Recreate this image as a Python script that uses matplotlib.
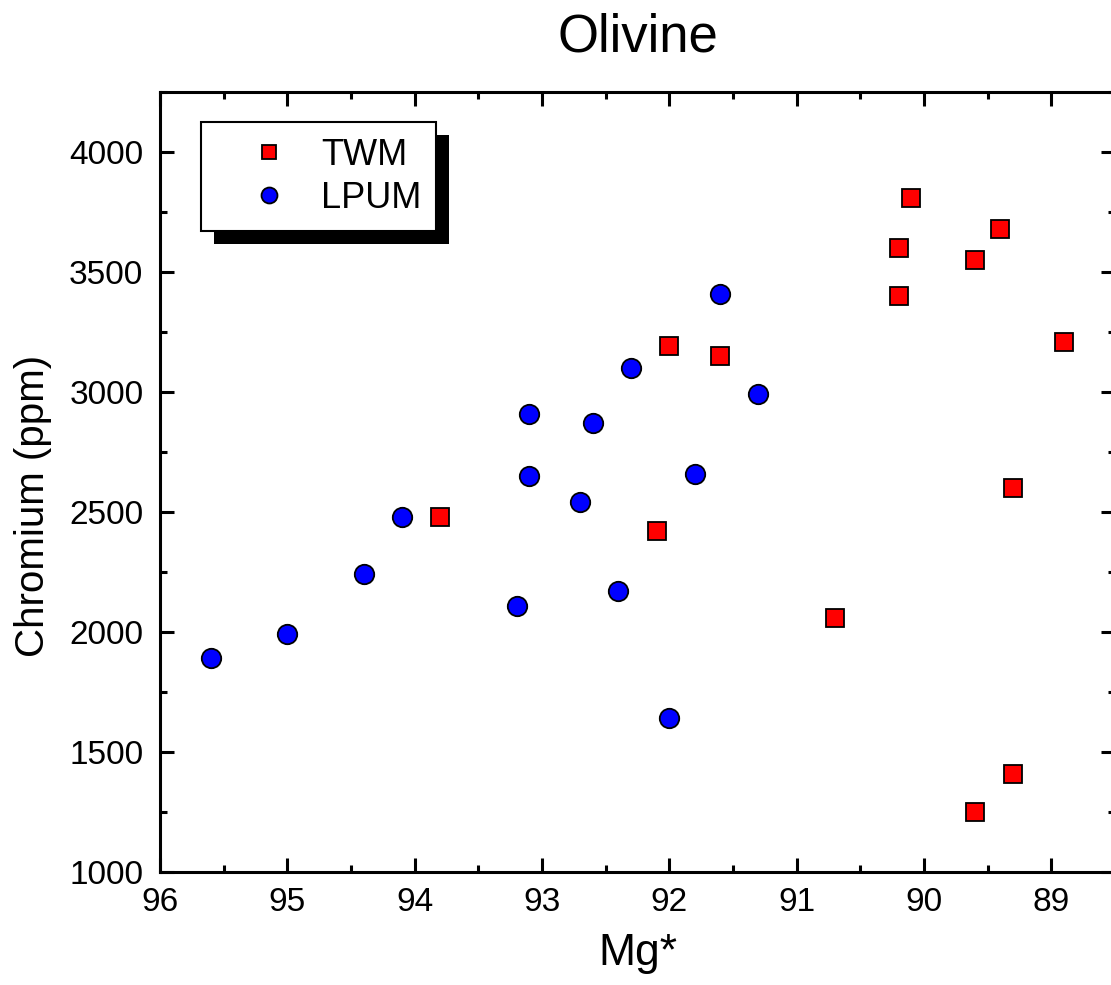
import matplotlib
matplotlib.use("Agg")
import matplotlib.pyplot as plt
from matplotlib.patches import Rectangle
from matplotlib.transforms import IdentityTransform
from matplotlib.ticker import MultipleLocator

plt.rcParams['font.family'] = ['Liberation Sans', 'DejaVu Sans']

# TWM (red squares)
twm_mg = [93.8, 92.0, 92.1, 91.6, 90.7, 90.2, 90.2, 90.1, 89.6, 89.4, 88.9, 89.3, 89.3, 89.6]
twm_cr = [2480, 3190, 2420, 3150, 2060, 3600, 3400, 3810, 3550, 3680, 3210, 2600, 1410, 1250]

# LPUM (blue circles)
lpum_mg = [95.6, 95.0, 94.4, 94.1, 93.2, 93.1, 93.1, 92.7, 92.6, 92.4, 92.3, 92.0, 91.8, 91.6, 91.3]
lpum_cr = [1890, 1990, 2240, 2480, 2110, 2910, 2650, 2540, 2870, 2170, 3100, 1640, 2660, 3410, 2990]

fig = plt.figure(figsize=(11.11, 9.85), dpi=100)
ax = fig.add_axes([160 / 1111, 113 / 985, 955 / 1111, 780 / 985])

ax.plot(twm_mg, twm_cr, linestyle='none', marker='s', markersize=12.5,
        markerfacecolor='#ff0000', markeredgecolor='black', markeredgewidth=1.3,
        label='TWM', zorder=3)
ax.plot(lpum_mg, lpum_cr, linestyle='none', marker='o', markersize=14,
        markerfacecolor='#0000ff', markeredgecolor='black', markeredgewidth=1.3,
        label='LPUM', zorder=3)

ax.set_xlim(96, 88.5)
ax.set_ylim(1000, 4250)
ax.xaxis.set_major_locator(MultipleLocator(1))
ax.xaxis.set_minor_locator(MultipleLocator(0.5))
ax.yaxis.set_major_locator(MultipleLocator(500))
ax.yaxis.set_minor_locator(MultipleLocator(250))

for s in ax.spines.values():
    s.set_linewidth(2.2)
ax.tick_params(which='both', direction='in', top=True, right=True, width=2.2)
ax.tick_params(which='major', length=10, labelsize=24)
ax.tick_params(which='minor', length=5)
ax.tick_params(axis='x', which='major', pad=11)
ax.tick_params(axis='y', which='major', pad=12)

ax.set_xlabel('Mg*', fontsize=32)
ax.set_ylabel('Chromium (ppm)', fontsize=29)
ax.xaxis.set_label_coords(0.5, -0.078)
ax.yaxis.set_label_coords(-0.113, 0.469)

fig.text(638 / 1111, 0.948, 'Olivine', fontsize=38, ha='center', va='baseline')

leg = ax.legend(loc='upper left', bbox_to_anchor=(0.043, 0.961), borderaxespad=0,
                fancybox=False, framealpha=1, edgecolor='black', fontsize=26,
                markerscale=0.82, handlelength=2.9, handletextpad=0.0,
                labelspacing=0.22, borderpad=0.42)
leg.get_frame().set_linewidth(1.5)
leg.set_zorder(5)

# thick black drop shadow behind the legend box
fig.canvas.draw()
bb = leg.get_frame().get_window_extent()
ax.add_patch(Rectangle((bb.x0 + 13, bb.y0 - 13), bb.width, bb.height,
                       transform=IdentityTransform(), facecolor='black',
                       edgecolor='none', clip_on=False, zorder=4.5))

fig.savefig('out.png', dpi=100)
